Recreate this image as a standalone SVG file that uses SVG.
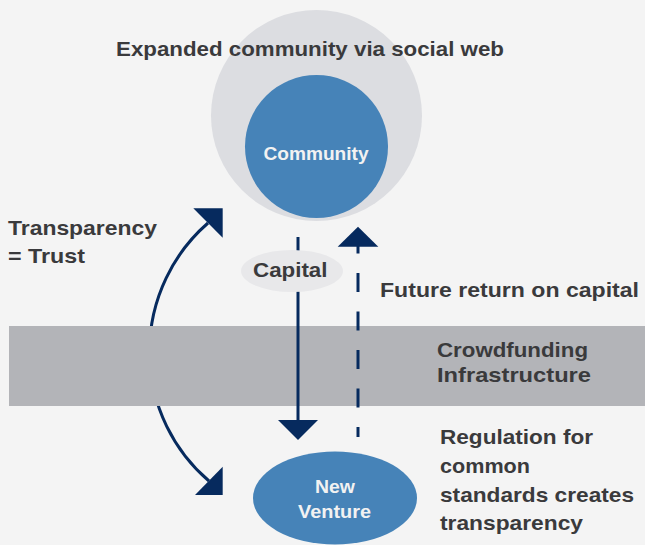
<svg xmlns="http://www.w3.org/2000/svg" width="645" height="545" viewBox="0 0 645 545">
<style>
.t{font-family:"Liberation Sans",Arial,sans-serif;font-weight:bold;font-size:21px;fill:#3a3a3c}
.w{font-family:"Liberation Sans",Arial,sans-serif;font-weight:bold;font-size:19px;fill:#f2f2f2;text-anchor:middle}
.ln{stroke:#062a5e;stroke-width:3;fill:none}
.hd{fill:#062a5e}
</style>
<rect x="0" y="0" width="645" height="545" fill="#f4f4f4"/>
<g id="expanded-community">
<circle cx="316.5" cy="115.5" r="105.5" fill="#dcdde1"/>
<text class="t" x="116" y="56" textLength="388" lengthAdjust="spacingAndGlyphs">Expanded community via social web</text>
</g>
<g id="community">
<circle cx="316.5" cy="146.5" r="71.5" fill="#4683b8"/>
<text class="w" x="316" y="159.5" textLength="105" lengthAdjust="spacingAndGlyphs">Community</text>
</g>
<g id="connectors-back">
<path class="ln" d="M208,223 A170.5,170.5 0 0 0 209,481"/>
<polygon class="hd" points="222.7,208.3 193.3,208.3 222.7,237.7"/>
<polygon class="hd" points="222.7,495 195,495 222.7,466.7"/>
</g>
<g id="crowdfunding-infrastructure">
<rect x="9" y="326" width="636" height="80" fill="#b3b4b8"/>
<text class="t" x="437" y="357" textLength="151" lengthAdjust="spacingAndGlyphs">Crowdfunding</text>
<text class="t" x="437" y="382" textLength="154" lengthAdjust="spacingAndGlyphs">Infrastructure</text>
</g>
<g id="connectors">
<line class="ln" x1="298" y1="237" x2="298" y2="422"/>
<polygon class="hd" points="278,420 318,420 298,440"/>
<line class="ln" x1="358" y1="234.5" x2="358" y2="437" stroke-dasharray="19 19.5"/>
<polygon class="hd" points="337.7,246.7 378.3,246.7 358,226.7"/>
</g>
<g id="capital">
<ellipse cx="292" cy="271" rx="51" ry="21" fill="#e8e8ea"/>
<text class="t" x="253" y="277.3" textLength="74.5" lengthAdjust="spacingAndGlyphs">Capital</text>
</g>
<g id="new-venture">
<ellipse cx="335" cy="498" rx="82" ry="46.5" fill="#4683b8"/>
<text class="w" x="335" y="493" textLength="40" lengthAdjust="spacingAndGlyphs">New</text>
<text class="w" x="334.5" y="518" textLength="73" lengthAdjust="spacingAndGlyphs">Venture</text>
</g>
<g id="labels">
<text class="t" x="8" y="235" textLength="149" lengthAdjust="spacingAndGlyphs">Transparency</text>
<text class="t" x="8" y="263" textLength="77" lengthAdjust="spacingAndGlyphs">= Trust</text>
<text class="t" x="380" y="296.7" textLength="259" lengthAdjust="spacingAndGlyphs">Future return on capital</text>
<text class="t" x="440" y="444" textLength="153" lengthAdjust="spacingAndGlyphs">Regulation for</text>
<text class="t" x="440" y="473" textLength="90" lengthAdjust="spacingAndGlyphs">common</text>
<text class="t" x="440" y="502" textLength="194" lengthAdjust="spacingAndGlyphs">standards creates</text>
<text class="t" x="440" y="530" textLength="143" lengthAdjust="spacingAndGlyphs">transparency</text>
</g>
</svg>
